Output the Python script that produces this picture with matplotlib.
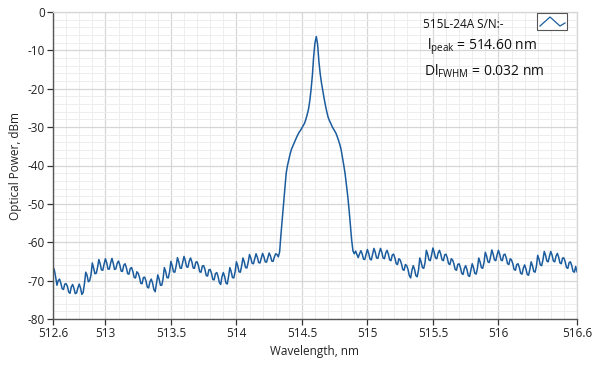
"""Optical spectrum of a 515 nm laser diode."""

import matplotlib
matplotlib.use("Agg")
import matplotlib.pyplot as plt
import numpy as np
from matplotlib.patches import Rectangle
from matplotlib.ticker import MultipleLocator, FixedLocator

# Spectrum, sampled every 0.01 nm from 512.6 to 516.6 nm
wl_start, wl_stop = 512.6, 516.6
power_dbm = [
    -66.4, -67.2, -69.0, -71.2, -70.0,
    -69.6, -70.7, -72.1, -72.3, -70.9,
    -70.8, -71.5, -73.0, -73.3, -71.6,
    -71.0, -72.0, -73.4, -73.2, -71.9,
    -70.9, -71.9, -73.6, -73.1, -70.8,
    -67.8, -68.6, -70.3, -70.0, -68.5,
    -65.4, -66.7, -68.2, -68.1, -66.6,
    -64.5, -65.6, -67.2, -67.3, -65.7,
    -64.3, -65.3, -67.0, -67.0, -65.4,
    -64.2, -65.5, -67.1, -66.9, -65.5,
    -64.9, -65.9, -67.5, -67.6, -66.0,
    -65.6, -66.6, -68.2, -68.3, -66.8,
    -66.6, -67.7, -69.2, -69.3, -67.7,
    -68.1, -69.1, -70.7, -70.8, -69.2,
    -69.1, -70.1, -71.7, -71.9, -70.3,
    -69.6, -70.6, -72.3, -72.9, -70.7,
    -68.5, -69.6, -71.2, -71.2, -69.6,
    -66.6, -67.6, -69.2, -69.3, -67.7,
    -65.0, -66.1, -67.7, -67.8, -66.2,
    -64.0, -65.1, -66.7, -66.8, -65.2,
    -63.7, -64.8, -66.4, -66.5, -64.9,
    -64.1, -65.1, -66.7, -66.8, -65.2,
    -65.1, -66.1, -67.7, -67.8, -66.2,
    -66.1, -67.1, -68.7, -68.8, -67.2,
    -67.1, -68.1, -69.7, -69.8, -68.2,
    -67.9, -68.9, -70.5, -71.0, -69.0,
    -67.9, -68.9, -70.6, -70.9, -69.0,
    -66.6, -67.6, -69.2, -69.3, -67.7,
    -65.1, -66.1, -67.7, -67.8, -66.2,
    -64.1, -65.1, -66.6, -66.7, -65.2,
    -63.2, -64.1, -65.5, -65.6, -64.3,
    -63.0, -63.9, -65.3, -65.4, -64.1,
    -62.9, -63.8, -65.1, -65.2, -64.0,
    -62.8, -63.6, -64.9, -65.0, -63.8,
    -63.0, -63.2, -63.8, -62.5,
    # main peak
    -58.0, -54.0, -50.0, -46.0, -42.0, -40.0, -38.5, -37.0, -35.8, -35.0,
    -34.2, -33.4, -32.6, -31.9, -31.3, -30.8, -30.2, -29.6, -29.0, -28.0,
    -26.8, -25.4, -23.2, -20.2, -16.5, -11.5, -8.0, -6.4, -8.5, -13.0,
    -16.2, -18.6, -20.6, -22.6, -24.4, -26.0, -27.4, -28.3, -29.0, -29.8,
    -30.4, -31.0, -31.6, -32.5, -33.5, -34.6, -36.0, -38.0, -40.0, -42.2,
    -45.0, -48.0, -51.5, -55.5, -59.5, -62.3,
    -63.0, -62.3, -63.2, -64.0, -63.0,
    -62.2, -63.0, -64.4, -64.5, -63.1,
    -61.9, -62.9, -64.4, -64.6, -63.1,
    -61.6, -62.6, -64.1, -64.2, -62.8,
    -61.6, -62.6, -64.1, -64.3, -62.8,
    -62.1, -63.1, -64.6, -64.8, -63.3,
    -63.1, -64.1, -65.6, -65.8, -64.3,
    -64.6, -65.6, -67.1, -67.3, -65.8,
    -66.1, -67.1, -68.7, -69.3, -67.3,
    -66.1, -67.1, -68.7, -69.0, -67.3,
    -64.1, -65.1, -66.6, -66.8, -65.3,
    -62.1, -63.1, -64.6, -64.8, -63.3,
    -61.5, -62.6, -64.1, -64.3, -62.8,
    -62.1, -63.1, -64.6, -64.8, -63.3,
    -63.1, -64.1, -65.6, -65.8, -64.3,
    -64.6, -65.6, -67.1, -67.3, -65.8,
    -65.6, -66.6, -68.1, -68.4, -66.8,
    -66.1, -67.1, -68.7, -68.9, -67.3,
    -65.6, -66.6, -68.1, -68.3, -66.8,
    -64.1, -65.1, -66.6, -66.8, -65.3,
    -62.6, -63.6, -65.1, -65.3, -63.8,
    -62.0, -63.1, -64.6, -64.8, -63.3,
    -62.1, -63.1, -64.6, -64.8, -63.3,
    -63.1, -64.1, -65.6, -65.8, -64.3,
    -64.6, -65.6, -67.1, -67.3, -65.8,
    -65.6, -66.6, -68.1, -68.3, -66.8,
    -65.9, -66.9, -68.4, -68.6, -67.1,
    -65.1, -66.1, -67.6, -67.8, -66.3,
    -63.4, -64.4, -65.9, -66.1, -64.6,
    -62.4, -63.4, -64.9, -65.1, -63.6,
    -62.4, -63.4, -64.9, -65.1, -63.6,
    -62.9, -63.9, -65.4, -65.6, -64.1,
    -64.1, -65.1, -66.6, -66.8, -65.3,
    -65.1, -66.1, -67.6, -67.8, -66.3,
    -67.7,
]
wavelength_nm = np.linspace(wl_start, wl_stop, len(power_dbm))

x_ticks = [512.6, 513, 513.5, 514, 514.5, 515, 515.5, 516, 516.6]
x_tick_labels = ["512.6", "513", "513.5", "514", "514.5", "515", "515.5", "516", "516.6"]
y_ticks = [0, -10, -20, -30, -40, -50, -60, -70, -80]

device_name = "515L-24A S/N:-"
peak_text = "514.60 nm"
fwhm_text = "0.032 nm"

plt.rcParams["font.family"] = ["Open Sans", "DejaVu Sans"]
plt.rcParams["axes.unicode_minus"] = False

fig = plt.figure(figsize=(5.99, 3.70), dpi=100)
ax = fig.add_axes([53 / 599, 1 - 319 / 370, 524 / 599, 307 / 370])

ax.plot(wavelength_nm, power_dbm, color="#1b5c9e", lw=1.1)

ax.set_xlim(wl_start, wl_stop)
ax.set_ylim(-80, 0)
ax.xaxis.set_major_locator(FixedLocator(x_ticks))
ax.set_xticklabels(x_tick_labels)
ax.xaxis.set_minor_locator(MultipleLocator(0.1))
ax.yaxis.set_major_locator(FixedLocator(y_ticks))
ax.yaxis.set_minor_locator(MultipleLocator(2))

ax.grid(which="major", color="#d6d6d6", lw=0.9)
ax.grid(which="minor", color="#ededed", lw=0.7)
ax.set_axisbelow(True)

ax.tick_params(which="major", direction="out", length=4, width=0.9,
               colors="#333333", labelsize=8.5, labelcolor="#222222", pad=2)
ax.tick_params(which="minor", length=0)
for side in ("left", "bottom"):
    ax.spines[side].set_color("#555555")
    ax.spines[side].set_linewidth(1.0)
for side in ("top", "right"):
    ax.spines[side].set_color("#d6d6d6")
    ax.spines[side].set_linewidth(0.9)

ax.set_xlabel("Wavelength, nm", fontsize=8.5, color="#222222", labelpad=3)
ax.set_ylabel("Optical Power, dBm", fontsize=8.5, color="#222222", labelpad=4)

# Legend / annotation block in the upper right corner
fig.text(423 / 599, 1 - 24 / 370, device_name, fontsize=8.5,
         color="#111111", va="center")
fig.text(427 / 599, 1 - 47 / 370, r"$\mathregular{l_{peak}}$ = " + peak_text,
         fontsize=10, color="#111111", va="center")
fig.text(424 / 599, 1 - 71 / 370, r"$\mathregular{Dl_{FWHM}}$ = " + fwhm_text,
         fontsize=10, color="#111111", va="center")

box = Rectangle((537 / 599, 1 - 30 / 370), 30 / 599, 17 / 370,
                transform=fig.transFigure, facecolor="white",
                edgecolor="#555555", lw=0.8)
fig.patches.append(box)
icon_x = [540, 550, 560, 565]
icon_y = [26, 17, 26, 23]
fig.add_artist(plt.Line2D([v / 599 for v in icon_x],
                          [1 - v / 370 for v in icon_y],
                          transform=fig.transFigure, color="#1b5c9e", lw=0.9))

fig.savefig("out.png", dpi=100)
